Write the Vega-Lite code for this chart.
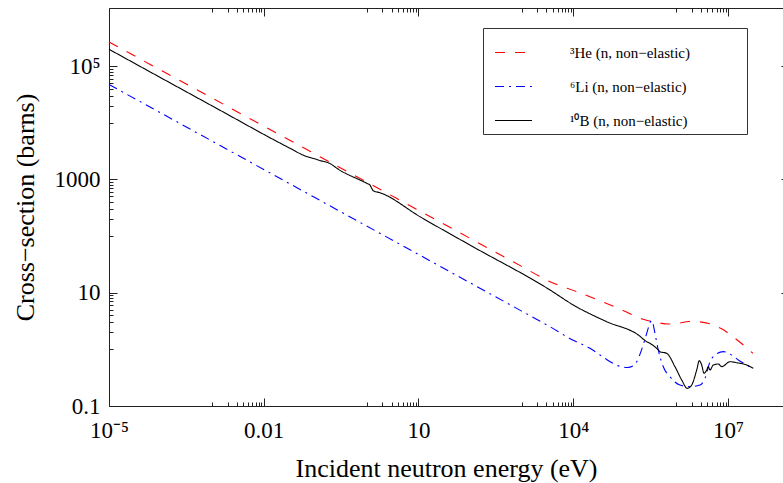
{
  "$schema": "https://vega.github.io/schema/vega-lite/v6.json",
  "width": 674,
  "height": 398,
  "autosize": "none",
  "padding": {"left": 109, "top": 8, "right": 0, "bottom": 77},
  "background": "white",
  "data": {"values": [
    {"s":"He","E":1e-5,"v":266100},{"s":"He","E":0.001,"v":27230},{"s":"He","E":0.1,"v":2786},{"s":"He","E":10,"v":285.1},{"s":"He","E":1000,"v":29.17},{"s":"He","E":3548,"v":15.63},{"s":"He","E":11670,"v":10.42},{"s":"He","E":36140,"v":7.0},{"s":"He","E":92260,"v":4.853},{"s":"He","E":225400,"v":3.388},{"s":"He","E":482000,"v":2.917},{"s":"He","E":657700,"v":2.799},{"s":"He","E":1071500,"v":2.884},{"s":"He","E":1758000,"v":3.105},{"s":"He","E":2871000,"v":3.055},{"s":"He","E":4898000,"v":2.748},{"s":"He","E":7656000,"v":2.286},{"s":"He","E":11970000,"v":1.722},{"s":"He","E":17860000,"v":1.294},{"s":"He","E":30550000,"v":0.851},
    {"s":"Li","E":1e-5,"v":47320},{"s":"Li","E":0.001,"v":4732},{"s":"Li","E":0.1,"v":473.2},{"s":"Li","E":10,"v":47.32},{"s":"Li","E":1000,"v":4.732},{"s":"Li","E":3548,"v":2.512},{"s":"Li","E":10000,"v":1.445},{"s":"Li","E":21130,"v":1.045},{"s":"Li","E":39810,"v":0.708},{"s":"Li","E":59840,"v":0.562},{"s":"Li","E":89130,"v":0.49},{"s":"Li","E":112200,"v":0.479},{"s":"Li","E":151400,"v":0.525},{"s":"Li","E":190500,"v":0.759},{"s":"Li","E":223900,"v":1.148},{"s":"Li","E":266100,"v":1.919},{"s":"Li","E":309000,"v":2.951},{"s":"Li","E":331100,"v":3.236},{"s":"Li","E":358900,"v":2.63},{"s":"Li","E":384600,"v":1.919},{"s":"Li","E":445700,"v":0.975},{"s":"Li","E":557200,"v":0.494},{"s":"Li","E":749900,"v":0.3289},{"s":"Li","E":1172000,"v":0.235},{"s":"Li","E":1837000,"v":0.2193},{"s":"Li","E":2871000,"v":0.235},{"s":"Li","E":3589000,"v":0.3083},{"s":"Li","E":4487000,"v":0.605},{"s":"Li","E":5610000,"v":0.794},{"s":"Li","E":8128000,"v":0.91},{"s":"Li","E":11830000,"v":0.794},{"s":"Li","E":15850000,"v":0.6486},{"s":"Li","E":23070000,"v":0.53},{"s":"Li","E":26300000,"v":0.49},
    {"s":"B","E":1e-5,"v":198200},{"s":"B","E":0.001,"v":19820},{"s":"B","E":0.03236,"v":3540},{"s":"B","E":0.0631,"v":2600},{"s":"B","E":0.1,"v":2291},{"s":"B","E":0.1259,"v":2138},{"s":"B","E":0.1778,"v":1972},{"s":"B","E":0.302,"v":1445},{"s":"B","E":0.991,"v":853},{"s":"B","E":1.148,"v":794},{"s":"B","E":1.239,"v":697},{"s":"B","E":1.33,"v":631},{"s":"B","E":1.795,"v":582},{"s":"B","E":10.69,"v":219.8},{"s":"B","E":100,"v":69.2},{"s":"B","E":3548,"v":11.17},{"s":"B","E":10050,"v":6.067},{"s":"B","E":44570,"v":3.076},{"s":"B","E":182800,"v":1.791},{"s":"B","E":266100,"v":1.365},{"s":"B","E":307600,"v":1.279},{"s":"B","E":445700,"v":0.975},{"s":"B","E":479700,"v":0.91},{"s":"B","E":648600,"v":0.851},{"s":"B","E":939700,"v":0.494},{"s":"B","E":1268000,"v":0.288},{"s":"B","E":1629000,"v":0.205},{"s":"B","E":1982000,"v":0.235},{"s":"B","E":2477000,"v":0.4315},{"s":"B","E":2780000,"v":0.631},{"s":"B","E":3097000,"v":0.53},{"s":"B","E":3428000,"v":0.378},{"s":"B","E":3873000,"v":0.4315},{"s":"B","E":4159000,"v":0.494},{"s":"B","E":4487000,"v":0.4315},{"s":"B","E":5200000,"v":0.53},{"s":"B","E":6501000,"v":0.551},{"s":"B","E":7568000,"v":0.494},{"s":"B","E":10960000,"v":0.605},{"s":"B","E":14790000,"v":0.581},{"s":"B","E":23070000,"v":0.53},{"s":"B","E":30970000,"v":0.4634}
  ]},
  "config": {
    "view": {"stroke": null},
    "font": "Liberation Serif",
    "axis": {
      "grid": false,
      "domainColor": "#222",
      "tickColor": "#222",
      "domainWidth": 1,
      "tickWidth": 1,
      "labelFont": "Liberation Serif",
      "labelFontSize": 23,
      "labelColor": "black",
      "titleFont": "Liberation Serif",
      "titleFontSize": 26,
      "titleFontWeight": "normal",
      "titleColor": "black",
      "labelFlush": false,
      "labelOverlap": false,
      "labelBound": false
    }
  },
  "layer": [
    {
      "mark": {"type": "line", "strokeWidth": 1.1, "interpolate": "monotone"},
      "encoding": {
        "x": {"field": "E", "type": "quantitative",
          "scale": {"type": "log", "domain": [1e-5, 116700000], "nice": false},
          "axis": {"orient": "bottom", "values": [1e-5, 0.01, 10, 10000, 10000000], "tickSize": -8, "labelPadding": 21,
            "labelExpr": "datum.value < 0.001 ? '10⁻⁵' : datum.value < 1 ? '0.01' : datum.value < 100 ? '10' : datum.value < 100000 ? '10⁴' : '10⁷'",
            "title": "Incident neutron energy (eV)", "titlePadding": 13}},
        "y": {"field": "v", "type": "quantitative",
          "scale": {"type": "log", "domain": [0.1, 1061000], "nice": false},
          "axis": {"orient": "left", "values": [0.1, 10, 1000, 100000], "tickSize": -8, "labelPadding": 17,
            "labelExpr": "datum.value < 1 ? '0.1' : datum.value < 100 ? '10' : datum.value < 10000 ? '1000' : '10⁵'",
            "title": "Cross−section (barns)", "titlePadding": 16}},
        "color": {"field": "s", "type": "nominal",
          "scale": {"domain": ["He", "Li", "B"], "range": ["#ff0000", "#0000ff", "#000000"]},
          "legend": {"orient": "none", "legendX": 374, "legendY": 20, "strokeColor": "#333", "fillColor": "white", "padding": 5,
            "symbolType": "stroke", "symbolSize": 1369, "symbolStrokeWidth": 1.1, "symbolOffset": 6,
            "labelFont": "Liberation Serif", "labelFontSize": 15, "labelColor": "black", "labelOffset": 37, "labelLimit": 300, "rowPadding": 6,
            "labelExpr": "datum.value == 'He' ? '³He (n, non−elastic)' : datum.value == 'Li' ? '⁶Li (n, non−elastic)' : '¹⁰B (n, non−elastic)'",
            "title": "\u00a0", "titleOrient": "right", "titlePadding": 52, "titleFontSize": 15}},
        "strokeDash": {"field": "s", "type": "nominal",
          "scale": {"domain": ["He", "Li", "B"], "range": [[10, 10], [9, 5, 2, 5], [1, 0]]},
          "legend": {"orient": "none", "legendX": 374, "legendY": 20, "strokeColor": "#333", "fillColor": "white", "padding": 5,
            "symbolType": "stroke", "symbolSize": 1369, "symbolStrokeWidth": 1.1, "symbolOffset": 6,
            "labelFont": "Liberation Serif", "labelFontSize": 15, "labelColor": "black", "labelOffset": 37, "labelLimit": 300, "rowPadding": 6,
            "labelExpr": "datum.value == 'He' ? '³He (n, non−elastic)' : datum.value == 'Li' ? '⁶Li (n, non−elastic)' : '¹⁰B (n, non−elastic)'",
            "title": "\u00a0", "titleOrient": "right", "titlePadding": 52, "titleFontSize": 15}}
      }
    },
    {
      "mark": {"type": "point", "opacity": 0},
      "encoding": {
        "x": {"field": "E", "type": "quantitative",
          "scale": {"type": "log", "domain": [1e-5, 116700000], "nice": false},
          "axis": {"orient": "bottom", "values": [0.001,0.002,0.003,0.004,0.005,0.006,0.007,0.008,0.009,1,2,3,4,5,6,7,8,9,1000,2000,3000,4000,5000,6000,7000,8000,9000,1000000,2000000,3000000,4000000,5000000,6000000,7000000,8000000,9000000],
            "tickSize": -4, "labels": false, "domain": false, "title": null}},
        "y": {"field": "v", "type": "quantitative",
          "scale": {"type": "log", "domain": [0.1, 1061000], "nice": false},
          "axis": {"orient": "left", "values": [1,2,3,4,5,6,7,8,9,100,200,300,400,500,600,700,800,900,10000,20000,30000,40000,50000,60000,70000,80000,90000],
            "tickSize": -4, "labels": false, "domain": false, "title": null}}
      }
    },
    {
      "mark": {"type": "point", "opacity": 0},
      "encoding": {
        "x": {"field": "E", "type": "quantitative",
          "scale": {"type": "log", "domain": [1e-5, 116700000], "nice": false},
          "axis": {"orient": "top", "values": [1e-5, 0.01, 10, 10000, 10000000], "tickSize": -8, "labels": false, "domain": true, "title": null}},
        "y": {"field": "v", "type": "quantitative",
          "scale": {"type": "log", "domain": [0.1, 1061000], "nice": false},
          "axis": {"orient": "right", "offset": 6, "values": [0.1, 10, 1000, 100000], "tickSize": -8, "labels": false, "domain": true, "title": null}}
      }
    },
    {
      "mark": {"type": "point", "opacity": 0},
      "encoding": {
        "x": {"field": "E", "type": "quantitative",
          "scale": {"type": "log", "domain": [1e-5, 116700000], "nice": false},
          "axis": {"orient": "top", "values": [0.001,0.002,0.003,0.004,0.005,0.006,0.007,0.008,0.009,1,2,3,4,5,6,7,8,9,1000,2000,3000,4000,5000,6000,7000,8000,9000,1000000,2000000,3000000,4000000,5000000,6000000,7000000,8000000,9000000],
            "tickSize": -4, "labels": false, "domain": false, "title": null}},
        "y": {"field": "v", "type": "quantitative",
          "scale": {"type": "log", "domain": [0.1, 1061000], "nice": false},
          "axis": {"orient": "right", "offset": 6, "values": [1,2,3,4,5,6,7,8,9,100,200,300,400,500,600,700,800,900,10000,20000,30000,40000,50000,60000,70000,80000,90000],
            "tickSize": -4, "labels": false, "domain": false, "title": null}}
      }
    }
  ],
  "resolve": {"axis": {"x": "independent", "y": "independent"}}
}
